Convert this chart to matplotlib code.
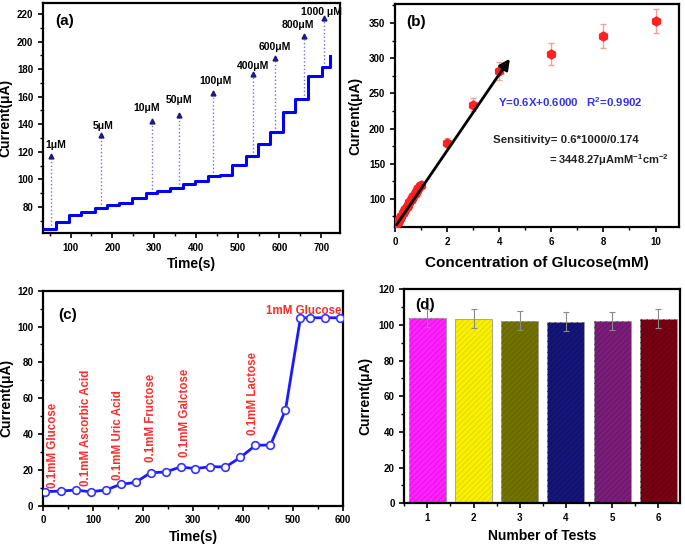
import numpy as np
import matplotlib
matplotlib.use("Agg")
import matplotlib.pyplot as plt
from matplotlib.ticker import MultipleLocator

plt.rcParams['font.family'] = ['Liberation Sans', 'DejaVu Sans']
plt.rcParams['font.weight'] = 'bold'
plt.rcParams['axes.labelweight'] = 'bold'
plt.rcParams['hatch.linewidth'] = 0.4
plt.rcParams['mathtext.fontset'] = 'custom'
plt.rcParams['mathtext.rm'] = 'Liberation Sans:bold'
plt.rcParams['mathtext.bf'] = 'Liberation Sans:bold'
plt.rcParams['mathtext.default'] = 'bf'

# ---------------- (a) amperometric staircase ----------------
a_times = [34, 65, 97, 126, 158, 186, 216, 248, 280, 307, 339, 368, 398, 428,
           457, 487, 519, 548, 577, 608, 638, 669, 701, 721]
a_currents = [64.1, 69.1, 74.4, 76.6, 78.8, 81.2, 82.9, 86.3, 89.7, 91.6, 93.8,
              96.9, 98.4, 102.2, 103.4, 110.7, 117.2, 125.7, 134.1, 148.6,
              158.3, 174.7, 181.2, 189.7]
a_arrow_t = [52, 173, 296, 360, 441.5, 536, 590, 659, 706.5]
a_arrow_top = [116.7, 132.4, 142, 147, 163, 176.6, 188, 204, 217]
a_labels = ['1μM', '5μM', '10μM', '50μM', '100μM', '400μM', '600μM', '800μM', '1000 μM']
a_label_x = [64, 178, 283, 360, 446, 536, 588, 645, 701]
a_label_y = [125.2, 138.5, 151.7, 157.8, 171.5, 181.9, 196.4, 212, 221.8]

# ---------------- (b) calibration ----------------
b_conc = [0.02, 0.05, 0.1, 0.15, 0.2, 0.25, 0.3, 0.35, 0.4, 0.45, 0.5, 0.55,
          0.6, 0.65, 0.7, 0.75, 0.8, 0.85, 0.9, 0.95, 1.0, 2, 3, 4, 6, 8, 10]
b_curr = [62, 64, 67, 70, 73, 76, 80, 83, 86, 89, 92, 95, 98, 101, 104, 107,
          110, 113, 116, 118, 120, 180, 234, 281.5, 306, 332, 352.4]
b_err = [2, 2, 2, 2, 2, 2, 2, 2, 2, 2, 2, 2, 2, 2, 2, 2, 2, 2, 2, 2, 2,
         6, 9, 13, 15, 17, 17]
b_fit_x = [0.0, 4.47]
b_fit_y = [60.0, 302.6]

# ---------------- (c) interference ----------------
c_time = [3, 35, 65, 95, 125, 155, 185, 215, 245, 275, 305, 335, 365, 395,
          425, 455, 485, 515, 535, 565, 595]
c_curr = [7.8, 8.2, 8.7, 7.8, 8.7, 11.9, 13.0, 18.4, 18.8, 21.6, 20.7, 21.8,
          21.6, 27.0, 33.7, 33.9, 53.4, 104.9, 104.9, 104.9, 104.9]
c_labels = ['0.1mM Glucose', '0.1mM Ascorbic Acid', '0.1mM Uric Acid',
            '0.1mM Fructose', '0.1mM Galctose', '0.1mM Lactose']
c_label_x = [20, 85, 150, 215, 285, 420]
c_label_y = [9.7, 11, 14.3, 24.6, 27.3, 39.4]

# ---------------- (d) reproducibility ----------------
d_tests = [1, 2, 3, 4, 5, 6]
d_curr = [104.1, 103.6, 102.4, 101.7, 102.2, 103.6]
d_err = [5, 5.3, 5.3, 5.3, 5.3, 5.3]
d_colors = ['#ff22ff', '#f8f000', '#727200', '#16167a', '#7a1e7a', '#780012']
d_hatch = ['#d800d8', '#d0c800', '#5a5a00', '#0a0a5a', '#5a105a', '#580008']

fig = plt.figure(figsize=(6.85, 5.44), dpi=100)

TICK = 7
LAB = 10


def style(ax):
    for s in ax.spines.values():
        s.set_linewidth(1.6)
    ax.tick_params(which='major', direction='out', length=3.5, width=1.2,
                   labelsize=TICK)
    ax.tick_params(which='minor', direction='out', length=2, width=1)
    for lbl in ax.get_xticklabels() + ax.get_yticklabels():
        lbl.set_fontweight('bold')


# (a)
axa = fig.add_axes([0.0628, 0.5717, 0.4336, 0.4228])
axa.plot(a_times, a_currents, drawstyle='steps-post', color='#0000ff', lw=2.2, zorder=3)
for t, top in zip(a_arrow_t, a_arrow_top):
    idx = np.searchsorted(a_times, t, side='right') - 1
    base = a_currents[idx]
    axa.plot([t, t], [base, top - 2], ls=':', color='#7070e0', lw=1)
    axa.plot([t], [top], marker='^', color='#1a1a80', ms=3.5, zorder=4)
for x, y, s in zip(a_label_x, a_label_y, a_labels):
    axa.text(x, y, s, ha='center', va='center', fontsize=7.5, fontweight='bold')
axa.set_xlim(34, 745)
axa.set_ylim(61, 228)
axa.xaxis.set_minor_locator(MultipleLocator(50))
axa.yaxis.set_minor_locator(MultipleLocator(10))
axa.set_xticks([100, 200, 300, 400, 500, 600, 700])
axa.set_yticks([80, 100, 120, 140, 160, 180, 200, 220])
axa.set_xlabel('Time(s)', fontsize=LAB, labelpad=3)
axa.set_ylabel('Current(μA)', fontsize=LAB, labelpad=3)
axa.text(0.04, 0.95, '(a)', transform=axa.transAxes, fontsize=11,
         fontweight='bold', va='top')
style(axa)

# (b)
axb = fig.add_axes([0.5766, 0.5827, 0.4146, 0.4099])
axb.errorbar(b_conc, b_curr, yerr=b_err, fmt='h', color='#ff2020', ms=6.5,
             ecolor='#f0a0a0', elinewidth=1, capsize=2, zorder=3)
axb.annotate('', xy=(b_fit_x[1], b_fit_y[1]), xytext=(b_fit_x[0], b_fit_y[0]),
             arrowprops=dict(arrowstyle='-|>', color='black', lw=2,
                             mutation_scale=16), zorder=4)
axb.text(9.5, 237.8, 'Y=0.6X+0.6000   R$^{2}$=0.9902', color='#3333ee',
         fontsize=8.2, fontweight='bold', va='center', ha='right')
axb.text(3.75, 183, 'Sensitivity= 0.6*1000/0.174', color='#222222',
         fontsize=8.2, fontweight='bold', va='center')
axb.text(5.91, 155, '= 3448.27μAmM$^{-1}$cm$^{-2}$', color='#222222',
         fontsize=8.0, fontweight='bold', va='center')
axb.set_xlim(0, 10.9)
axb.set_ylim(60, 377)
axb.xaxis.set_major_locator(MultipleLocator(2))
axb.xaxis.set_minor_locator(MultipleLocator(1))
axb.set_yticks([100, 150, 200, 250, 300, 350])
axb.yaxis.set_minor_locator(MultipleLocator(25))
axb.set_xlabel('Concentration of Glucose(mM)', fontsize=11, labelpad=7)
axb.set_ylabel('Current(μA)', fontsize=LAB, labelpad=5)
axb.text(0.04, 0.95, '(b)', transform=axb.transAxes, fontsize=11,
         fontweight='bold', va='top')
style(axb)

# (c)
axc = fig.add_axes([0.0628, 0.0704, 0.4379, 0.3952])
axc.plot(c_time, c_curr, '-o', color='#1a1aff', lw=2, ms=5.5,
         mfc='white', mec='#3333ff', mew=1.2, zorder=3)
for x, y, s in zip(c_label_x, c_label_y, c_labels):
    axc.text(x, y, s, rotation=90, ha='center', va='bottom', color='#ff2b2b',
             fontsize=8.3, fontweight='bold')
axc.text(597, 108.8, '1mM Glucose', ha='right', va='center', color='#ff2b2b',
         fontsize=8.3, fontweight='bold')
axc.set_xlim(0, 600)
axc.set_ylim(0, 120)
axc.xaxis.set_major_locator(MultipleLocator(100))
axc.xaxis.set_minor_locator(MultipleLocator(50))
axc.yaxis.set_major_locator(MultipleLocator(20))
axc.yaxis.set_minor_locator(MultipleLocator(10))
axc.set_xlabel('Time(s)', fontsize=LAB, labelpad=3)
axc.set_ylabel('Current(μA)', fontsize=LAB, labelpad=3)
axc.text(0.05, 0.92, '(c)', transform=axc.transAxes, fontsize=11,
         fontweight='bold', va='top')
style(axc)

# (d)
axd = fig.add_axes([0.5902, 0.0748, 0.4025, 0.3934])
axd.bar(d_tests, d_curr, width=0.8, color=d_colors, edgecolor='#999999',
        linewidth=0.6, zorder=2)
for x, h, hc in zip(d_tests, d_curr, d_hatch):
    axd.bar([x], [h], width=0.8, fill=False, hatch='//////', edgecolor=hc,
            linewidth=0, zorder=2.5)
axd.errorbar(d_tests, d_curr, yerr=d_err, fmt='none', ecolor='#8a8a8a',
             elinewidth=0.8, capsize=2, capthick=0.8, zorder=3)
axd.set_xlim(0.5, 6.47)
axd.set_ylim(0, 120)
axd.set_xticks(d_tests)
axd.xaxis.set_minor_locator(MultipleLocator(0.5))
axd.yaxis.set_major_locator(MultipleLocator(20))
axd.yaxis.set_minor_locator(MultipleLocator(10))
axd.set_xlabel('Number of Tests', fontsize=LAB, labelpad=4)
axd.set_ylabel('Current(μA)', fontsize=LAB, labelpad=4)
axd.text(0.04, 0.96, '(d)', transform=axd.transAxes, fontsize=11,
         fontweight='bold', va='top')
style(axd)

fig.savefig('out.png', dpi=100)
